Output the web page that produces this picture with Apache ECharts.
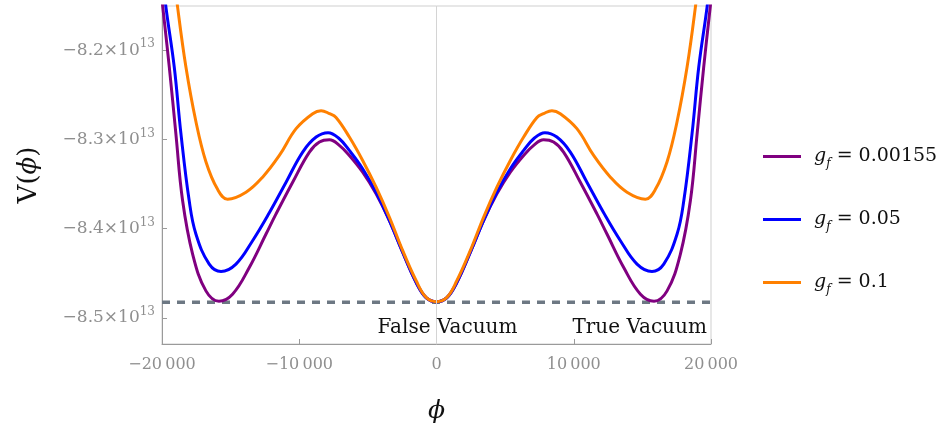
<!DOCTYPE html>
<html>
<head>
<meta charset="utf-8">
<script src="https://cdn.jsdelivr.net/npm/echarts@6/dist/echarts.min.js"></script>
<style>
  html, body { margin: 0; padding: 0; background: #fff; }
  #chart { width: 945px; height: 427px; }
</style>
</head>
<body>
<div id="chart"></div>
<script>
// V(phi) for three couplings g_f; values in units of 1e13.

const gfLabels = ["0.00155", "0.05", "0.1"];
const gfColors = ["#800080", "#0000ff", "#ff8000"];

// [phi, V / 1e13]
const curveGf00155 = [
  [-20000, -8.144], [-19470, -8.2187], [-18990, -8.2936], [-18500, -8.3685], [-17770, -8.4284],
  [-16800, -8.4697], [-15850, -8.4812], [-14860, -8.4734], [-13640, -8.4435], [-12420, -8.406],
  [-11690, -8.3835], [-10480, -8.348], [-9260, -8.3142], [-8530, -8.303], [-7800, -8.3005],
  [-7080, -8.3067], [-6350, -8.318], [-5380, -8.3367], [-4400, -8.361], [-3430, -8.391],
  [-2460, -8.4266], [-1480, -8.4603], [-750, -8.4772], [0, -8.4818],
  [750, -8.4772], [1480, -8.4603], [2460, -8.4266], [3430, -8.391], [4400, -8.361],
  [5380, -8.3367], [6350, -8.318], [7080, -8.3067], [7800, -8.3005], [8530, -8.303],
  [9260, -8.3142], [10480, -8.348], [11690, -8.3835], [12420, -8.406], [13640, -8.4435],
  [14860, -8.4734], [15850, -8.4812], [16800, -8.4697], [17770, -8.4284], [18500, -8.3685],
  [18990, -8.2936], [19470, -8.2187], [20000, -8.144]
];

const curveGf005 = [
  [-20000, -8.11], [-19720, -8.151], [-19110, -8.2187], [-18620, -8.2936], [-18020, -8.3685],
  [-17530, -8.406], [-16560, -8.4397], [-15700, -8.448], [-14610, -8.4397], [-13400, -8.4135],
  [-12180, -8.3822], [-10960, -8.348], [-9750, -8.3142], [-8770, -8.2974], [-7900, -8.2925],
  [-7080, -8.2993], [-6350, -8.3124], [-5380, -8.3329], [-4400, -8.3592], [-3430, -8.391],
  [-2460, -8.4266], [-1480, -8.4603], [-750, -8.4775], [0, -8.4818],
  [750, -8.4775], [1480, -8.4603], [2460, -8.4266], [3430, -8.391], [4400, -8.3592],
  [5380, -8.3329], [6350, -8.3124], [7080, -8.2993], [7900, -8.2925], [8770, -8.2974],
  [9750, -8.3142], [10960, -8.348], [12180, -8.3822], [13400, -8.4135], [14610, -8.4397],
  [15700, -8.448], [16560, -8.4397], [17530, -8.406], [18020, -8.3685], [18620, -8.2936],
  [19110, -8.2187], [19720, -8.151], [20000, -8.11]
];

const curveGf01 = [
  [-20000, -7.99], [-19500, -8.07], [-18870, -8.151], [-18260, -8.2187], [-17530, -8.280],
  [-16800, -8.325], [-15950, -8.356], [-15220, -8.367], [-13880, -8.3592], [-12670, -8.3423],
  [-11450, -8.318], [-10230, -8.288], [-9020, -8.2712], [-8410, -8.2678], [-7800, -8.2712],
  [-7320, -8.2755], [-6350, -8.2974], [-5380, -8.3236], [-4400, -8.3536], [-3430, -8.3873],
  [-2460, -8.4247], [-1480, -8.4584], [-750, -8.4772], [0, -8.4818],
  [750, -8.4772], [1480, -8.4584], [2460, -8.4247], [3430, -8.3873], [4400, -8.3536],
  [5380, -8.3236], [6350, -8.2974], [7320, -8.2755], [7800, -8.2712], [8410, -8.2678],
  [9020, -8.2712], [10230, -8.288], [11450, -8.318], [12670, -8.3423], [13880, -8.3592],
  [15220, -8.367], [15950, -8.356], [16800, -8.325], [17530, -8.280], [18260, -8.2187],
  [18870, -8.151], [19500, -8.07], [20000, -7.99]
];

const curves = [curveGf00155, curveGf005, curveGf01];

const vacuumLevel = -8.4825;
const xTicks = [-20000, -10000, 0, 10000, 20000];
const yTicks = [-8.5, -8.4, -8.3, -8.2];
const annotations = [
  { name: "False Vacuum", coord: [800, -8.5112] },
  { name: "True Vacuum", coord: [14800, -8.5112] }
];

const SERIF = "'DejaVu Serif', 'Liberation Serif', serif";
const gray = "#8f8f8f";

function fmtX(v) {
  if (v === 0) return "0";
  const a = Math.abs(v);
  const s = Math.floor(a / 1000) + "\u2009" + String(a % 1000).padStart(3, "0");
  return (v < 0 ? "\u2212" : "") + s;
}

function fmtY(v) {
  const s = Math.abs(v).toFixed(1);
  return "{m|" + (v < 0 ? "\u2212" : "") + s + "\u00d710}{s|13}";
}

const series = [
  {
    name: "vacuum",
    type: "line",
    data: [[-20000, vacuumLevel], [20000, vacuumLevel]],
    symbol: "none",
    silent: true,
    z: 1,
    lineStyle: { color: "#6d7883", width: 3.5, type: [8, 7] },
    markLine: {
      silent: true,
      symbol: "none",
      label: { show: false },
      lineStyle: { color: "#d4d4d4", width: 1, type: "solid" },
      data: [{ xAxis: 0 }]
    },
    markPoint: {
      symbol: "circle",
      symbolSize: 0,
      silent: true,
      label: {
        show: true,
        position: "inside",
        formatter: "{b}",
        color: "#111",
        fontFamily: SERIF,
        fontSize: 20
      },
      data: annotations
    }
  }
];

gfLabels.forEach((g, i) => {
  series.push({
    name: "g_f = " + g,
    type: "line",
    data: curves[i],
    symbol: "none",
    smooth: 0.4,
    clip: true,
    z: 2 + i,
    lineStyle: { color: gfColors[i], width: 3 },
    itemStyle: { color: gfColors[i] }
  });
});

const chart = echarts.init(document.getElementById("chart"), null, { renderer: "canvas" });
chart.setOption({
  backgroundColor: "#fff",
  animation: false,
  grid: {
    left: 162, right: 234, top: 6, bottom: 83,
    outerBoundsMode: "none",
    show: true, borderColor: "#cfcfcf", borderWidth: 1
  },
  legend: {
    data: gfLabels.map(g => "g_f = " + g),
    orient: "vertical",
    left: 758,
    top: 142,
    icon: "rect",
    itemWidth: 38,
    itemHeight: 3,
    itemGap: 40.5,
    formatter: name => "{g|g}{f|f}{t| = " + name.split("= ")[1] + "}",
    textStyle: {
      color: "#111",
      rich: {
        g: { fontFamily: SERIF, fontStyle: "italic", fontSize: 19, lineHeight: 26, verticalAlign: "middle", padding: [0, 0, 0, 8] },
        f: { fontFamily: SERIF, fontStyle: "italic", fontSize: 12, lineHeight: 12, verticalAlign: "bottom" },
        t: { fontFamily: SERIF, fontSize: 19, lineHeight: 26, verticalAlign: "middle" }
      }
    }
  },
  xAxis: {
    type: "value",
    min: -20000,
    max: 20000,
    interval: 10000,
    name: "{i|\u03d5}",
    nameLocation: "middle",
    nameGap: 55,
    nameTextStyle: {
      rich: { i: { fontFamily: SERIF, fontStyle: "italic", fontSize: 25, color: "#111" } }
    },
    axisLine: { show: true, onZero: false, lineStyle: { color: "#9a9a9a", width: 1 } },
    axisTick: { show: true, inside: true, length: 5, lineStyle: { color: "#9a9a9a" } },
    splitLine: { show: false },
    axisLabel: {
      color: gray,
      fontFamily: SERIF,
      fontSize: 16,
      margin: 13,
      formatter: fmtX,
      customValues: xTicks
    }
  },
  yAxis: {
    type: "value",
    min: -8.5292,
    max: -8.1506,
    name: "{n|V(}{i|\u03d5}{n|)}",
    nameLocation: "middle",
    nameRotate: 90,
    nameGap: 120,
    nameTextStyle: {
      rich: {
        n: { fontFamily: SERIF, fontSize: 26, color: "#111" },
        i: { fontFamily: SERIF, fontStyle: "italic", fontSize: 26, color: "#111" }
      }
    },
    axisLine: { show: true, onZero: false, lineStyle: { color: "#9a9a9a", width: 1 } },
    axisTick: { show: true, inside: true, length: 5, lineStyle: { color: "#9a9a9a" }, customValues: yTicks },
    splitLine: { show: false },
    axisLabel: {
      margin: 7,
      formatter: fmtY,
      customValues: yTicks,
      rich: {
        m: { color: gray, fontFamily: SERIF, fontSize: 17, lineHeight: 24, verticalAlign: "middle" },
        s: { color: gray, fontFamily: SERIF, fontSize: 12, lineHeight: 12, verticalAlign: "top" }
      }
    }
  },
  series
});
</script>
</body>
</html>
